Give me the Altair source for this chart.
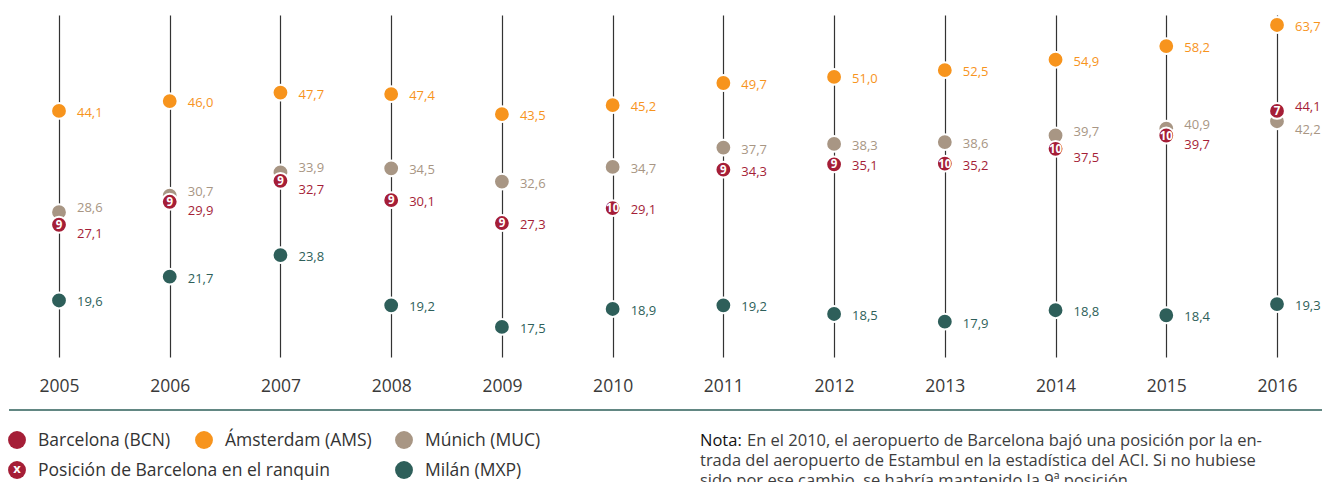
import math
import altair as alt
import pandas as pd

# ---------------- data ----------------
years = [2005, 2006, 2007, 2008, 2009, 2010, 2011, 2012, 2013, 2014, 2015, 2016]
bcn = [27.1, 29.9, 32.7, 30.1, 27.3, 29.1, 34.3, 35.1, 35.2, 37.5, 39.7, 44.1]
ams = [44.1, 46.0, 47.7, 47.4, 43.5, 45.2, 49.7, 51.0, 52.5, 54.9, 58.2, 63.7]
muc = [28.6, 30.7, 33.9, 34.5, 32.6, 34.7, 37.7, 38.3, 38.6, 39.7, 40.9, 42.2]
mxp = [19.6, 21.7, 23.8, 19.2, 17.5, 18.9, 19.2, 18.5, 17.9, 18.8, 18.4, 19.3]
bcn_rank = [9, 9, 9, 9, 9, 10, 9, 9, 10, 10, 10, 7]

series_names = ["Barcelona (BCN)", "Ámsterdam (AMS)", "Múnich (MUC)", "Milán (MXP)"]
series_colors = ["#A51E37", "#F7941D", "#A89684", "#2E5F5A"]
rank_legend = "Posición de Barcelona en el ranquin"

note_head = "Nota:"
note_lines = [
    "En el 2010, el aeropuerto de Barcelona bajó una posición por la en-",
    "trada del aeropuerto de Estambul en la estadística del ACI. Si no hubiese",
    "sido por ese cambio, se habría mantenido la 9ª posición.",
]

# ---------------- tables ----------------
# label nudge where Barcelona and Munich values are close in a year
nudge = {}
for y, b, m in zip(years, bcn, muc):
    if abs(math.log(b / m)) < 0.07:
        nudge[(y, "Barcelona (BCN)")] = "up" if b > m else "down"
        nudge[(y, "Múnich (MUC)")] = "up" if m > b else "down"

rows = []
# Barcelona last so its dots sit on top
for name, vals in zip(["Ámsterdam (AMS)", "Múnich (MUC)", "Milán (MXP)", "Barcelona (BCN)"],
                      [ams, muc, mxp, bcn]):
    for y, v in zip(years, vals):
        rows.append({"year": y, "value": v, "series": name,
                     "label": f"{v:.1f}".replace(".", ","),
                     "nudge": nudge.get((y, name), "none")})
df = pd.DataFrame(rows)
df_rank = pd.DataFrame({"year": years, "value": bcn, "rank": [str(r) for r in bcn_rank]})

FONT = "Open Sans"
W, H = 1314, 342

color_scale = alt.Scale(domain=series_names, range=series_colors)

x_enc = alt.X("year:Q",
              scale=alt.Scale(domain=[2004.5394, 2016.4064], nice=False, zero=False),
              axis=alt.Axis(values=years, format="d", grid=True, gridColor="#333333",
                            gridWidth=1.2, gridOpacity=1, ticks=False, domain=False,
                            labelFontSize=17.5, labelColor="#3a3a3a", labelFont=FONT,
                            labelFontWeight="normal",
                            labelPadding=20, labelFlush=False, title=None))
y_enc = alt.Y("value:Q", scale=alt.Scale(type="log", domain=[15.39, 66.48], nice=False),
              axis=None)

base = alt.Chart(df).encode(x=x_enc, y=y_enc)

dots = base.mark_circle(size=250, opacity=1, stroke="white", strokeWidth=2).encode(
    color=alt.Color("series:N", scale=color_scale, legend=None))

layers = [dots]
for kind, dy in [("none", 2), ("up", -4), ("down", 9)]:
    layers.append(base.transform_filter(alt.datum.nudge == kind).mark_text(
        align="left", baseline="middle", dx=18, dy=dy, fontSize=13, font=FONT).encode(
        text="label:N",
        color=alt.Color("series:N", scale=color_scale, legend=None)))

ranks = alt.Chart(df_rank).mark_text(color="white", fontWeight="bold", fontSize=11.5,
                                     font=FONT, baseline="middle", dy=1).encode(
    x=alt.X("year:Q"), y=alt.Y("value:Q"), text="rank:N")

sep = alt.Chart(pd.DataFrame({"a": [0]})).mark_rule(color="#2E5F5A", strokeWidth=1.5).encode(
    x=alt.value(1), x2=alt.value(W), y=alt.value(395))

layers += [ranks, sep]

# legend (manual)
leg_pos = {
    "Barcelona (BCN)": (9, 425),
    "Ámsterdam (AMS)": (196, 425),
    "Múnich (MUC)": (396, 425),
    rank_legend: (9, 455),
    "Milán (MXP)": (396, 455),
}
leg_color = dict(zip(series_names, series_colors))
leg_color[rank_legend] = series_colors[0]
for name, (lx, ly) in leg_pos.items():
    d = pd.DataFrame({"label": [name]})
    layers.append(alt.Chart(d).mark_circle(size=320, opacity=1, color=leg_color[name]).encode(
        x=alt.value(lx), y=alt.value(ly)))
    layers.append(alt.Chart(d).mark_text(align="left", baseline="middle", fontSize=17.5,
                                         font=FONT, color="#333333").encode(
        x=alt.value(lx + 21), y=alt.value(ly + 1), text="label:N"))
layers.append(alt.Chart(pd.DataFrame({"t": ["x"]})).mark_text(
    align="center", baseline="middle", fontSize=13, fontWeight="bold", font=FONT,
    color="white").encode(x=alt.value(9), y=alt.value(454), text="t:N"))

# note
layers.append(alt.Chart(pd.DataFrame({"t": [note_head]})).mark_text(
    align="left", baseline="middle", fontSize=16.5, font=FONT, color="#111111").encode(
    x=alt.value(692), y=alt.value(426), text="t:N"))
for i, line in enumerate(note_lines):
    lx = 739 if i == 0 else 692
    layers.append(alt.Chart(pd.DataFrame({"t": [line]})).mark_text(
        align="left", baseline="middle", fontSize=16.5, font=FONT, color="#3d3d3d").encode(
        x=alt.value(lx), y=alt.value(426 + 20 * i), text="t:N"))

chart = alt.layer(*layers).properties(
    width=W, height=H,
    autosize=alt.AutoSizeParams(type="none"),
    padding={"top": 7, "left": 0, "right": 0, "bottom": 125},
).configure_view(stroke=None)

chart.save("out.html", embed_options={"renderer": "svg", "actions": False})
